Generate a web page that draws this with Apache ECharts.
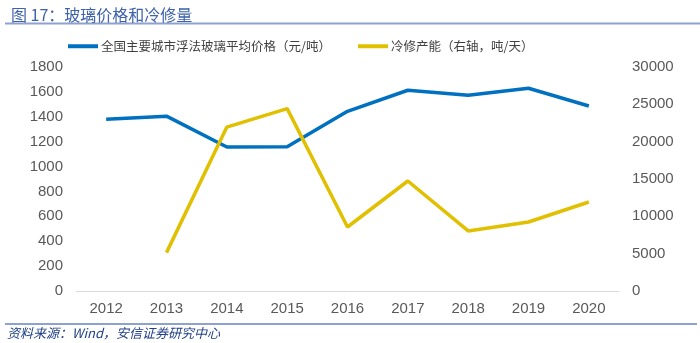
<!DOCTYPE html>
<html>
<head>
<meta charset="utf-8">
<script src="https://cdn.jsdelivr.net/npm/echarts@6/dist/echarts.min.js"></script>
<style>
html,body{margin:0;padding:0;background:#fff;}
#c{width:700px;height:343px;}
</style>
</head>
<body>
<div id="c"></div>
<script>
const years = ['2012','2013','2014','2015','2016','2017','2018','2019','2020'];
const glassPrice = [1380, 1405, 1157, 1160, 1444, 1613, 1573, 1629, 1487];
const coldRepair = [null, 5140, 21950, 24430, 8570, 14730, 8040, 9240, 11920];
const leftTicks = {min: 0, max: 1800, interval: 200};
const rightTicks = {min: 0, max: 30000, interval: 5000};
const priceName = '全国主要城市浮法玻璃平均价格（元/吨）';
const repairName = '冷修产能（右轴，吨/天）';

const chart = echarts.init(document.getElementById('c'), null, {renderer: 'canvas'});
const labelStyle = {color: '#595959', fontSize: 15, fontFamily: 'Liberation Sans, Arial, sans-serif', formatter: v => String(v)};
const cjk = '"Noto Sans CJK SC", sans-serif';
chart.setOption({
  animation: false,
  backgroundColor: '#ffffff',
  title: {
    text: '图 17：玻璃价格和冷修量',
    left: 6, top: 2,
    textStyle: {color: '#3F62A8', fontSize: 16, fontWeight: 'normal', fontFamily: cjk}
  },
  legend: [
    {
      data: [priceName], left: 68, top: 40, padding: 0, icon: 'rect', itemWidth: 30, itemHeight: 4,
      textStyle: {color: '#404040', fontSize: 12.5, fontFamily: cjk, padding: [0, 0, 0, -2]}
    },
    {
      data: [repairName], left: 358, top: 40, padding: 0, icon: 'rect', itemWidth: 30, itemHeight: 4,
      textStyle: {color: '#404040', fontSize: 12.5, fontFamily: cjk, padding: [0, 0, 0, -2]}
    }
  ],
  grid: {left: 76, right: 81, top: 67, bottom: 52, containLabel: false},
  xAxis: {
    type: 'category', data: years, boundaryGap: true,
    axisLine: {lineStyle: {color: '#D9D9D9', width: 1}},
    axisTick: {show: false},
    axisLabel: Object.assign({margin: 10}, labelStyle)
  },
  yAxis: [
    {
      type: 'value', min: leftTicks.min, max: leftTicks.max, interval: leftTicks.interval,
      axisLine: {show: false}, axisTick: {show: false}, splitLine: {show: false},
      axisLabel: Object.assign({margin: 13}, labelStyle)
    },
    {
      type: 'value', position: 'right', min: rightTicks.min, max: rightTicks.max, interval: rightTicks.interval,
      axisLine: {show: false}, axisTick: {show: false}, splitLine: {show: false},
      axisLabel: Object.assign({margin: 13}, labelStyle)
    }
  ],
  series: [
    {
      name: priceName, type: 'line', data: glassPrice, yAxisIndex: 0,
      showSymbol: false, symbol: 'none',
      lineStyle: {color: '#0070C0', width: 3.5},
      itemStyle: {color: '#0070C0'}
    },
    {
      name: repairName, type: 'line', data: coldRepair, yAxisIndex: 1,
      showSymbol: false, symbol: 'none', connectNulls: false,
      lineStyle: {color: '#E0C000', width: 3.5},
      itemStyle: {color: '#E0C000'}
    }
  ],
  graphic: [
    {type: 'line', shape: {x1: 5, y1: 23.5, x2: 700, y2: 23.5}, style: {stroke: '#8EA2D0', lineWidth: 2}},
    {type: 'line', shape: {x1: 5, y1: 324, x2: 697, y2: 324}, style: {stroke: '#8EA2D0', lineWidth: 2}},
    {type: 'text', left: 7, top: 327, style: {text: '资料来源：Wind，安信证券研究中心', fill: '#1F3F86', fontSize: 13, fontStyle: 'italic', fontFamily: cjk}}
  ]
});
</script>
</body>
</html>
